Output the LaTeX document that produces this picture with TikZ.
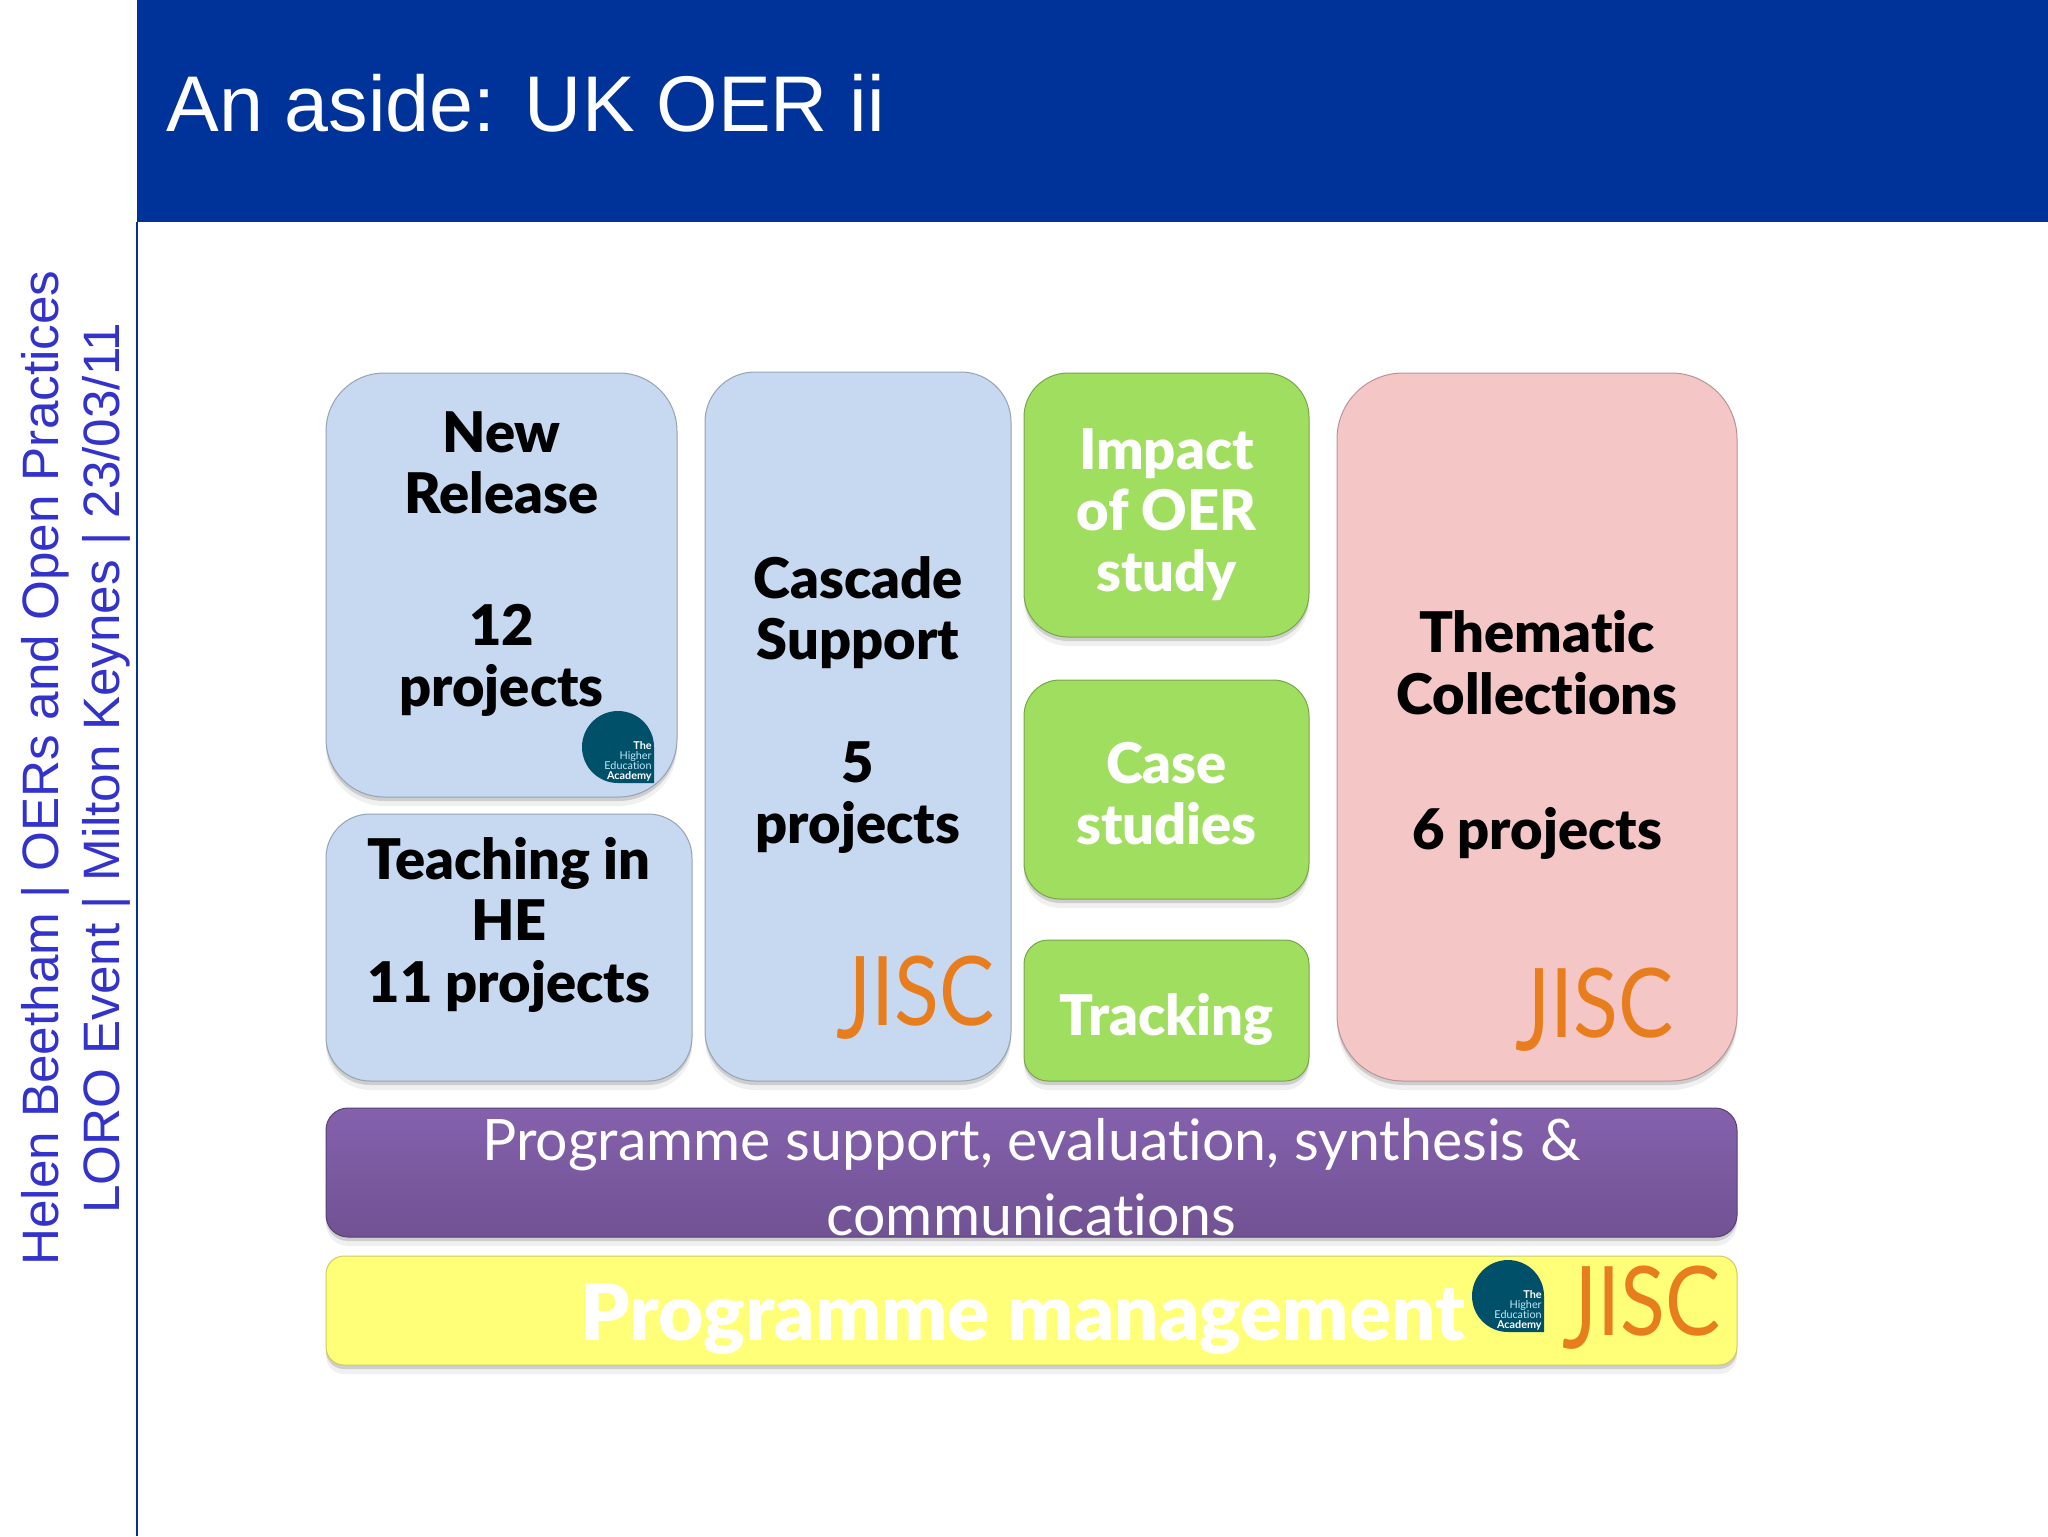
\documentclass[tikz,border=0pt]{standalone}
\usepackage{fontspec}
\setmainfont{Liberation Sans}
\newfontfamily\boxfont{Lato Black}[Ligatures=CommonOff]
\newfontfamily\barfont{Lato}[Ligatures=CommonOff]
\newfontfamily\logofont{Lato}
\definecolor{oerblue}{RGB}{0,51,153}
\definecolor{sidetext}{RGB}{51,51,204}
\definecolor{jiscorange}{RGB}{232,125,30}
\definecolor{heateal}{RGB}{0,80,105}
\definecolor{bluebody}{RGB}{198,217,241}
\definecolor{greenbody}{RGB}{160,222,95}
\definecolor{pinkbody}{RGB}{245,198,198}
\definecolor{yellowbody}{RGB}{255,255,120}
\definecolor{purpletop}{RGB}{140,102,182}
\definecolor{purplelow}{RGB}{104,76,136}
\definecolor{purplerim}{RGB}{205,165,245}
\pgfdeclareverticalshading{bluebevel}{100bp}{color(0bp)=(bluebody!60!black); color(1.5bp)=(bluebody); color(98bp)=(bluebody); color(100bp)=(bluebody!30!white)}
\pgfdeclareverticalshading{greenbevel}{100bp}{color(0bp)=(greenbody!55!black); color(3bp)=(greenbody); color(95bp)=(greenbody); color(100bp)=(greenbody!65!white)}
\pgfdeclareverticalshading{pinkbevel}{100bp}{color(0bp)=(pinkbody!60!black); color(1.5bp)=(pinkbody); color(98bp)=(pinkbody); color(100bp)=(pinkbody!30!white)}
\pgfdeclareverticalshading{purplebevel}{100bp}{color(0bp)=(purplelow!70!black); color(4bp)=(purplelow); color(92bp)=(purpletop); color(96bp)=(purpletop); color(100bp)=(purplerim)}
\pgfdeclareverticalshading{yellowbevel}{100bp}{color(0bp)=(yellowbody!55!black); color(5bp)=(yellowbody); color(94bp)=(yellowbody); color(100bp)=(yellowbody!60!white)}
\usetikzlibrary{shadows}
\newcommand{\dropfirst}[1]{\rule{0pt}{#1pt}}
\newcommand{\jiscword}{\scalebox{0.86}[1]{\raisebox{-6.5pt}{\scalebox{1}[1.19]{J}}ISC}}

\begin{document}
\begin{tikzpicture}[x=0.5pt,y=-0.5pt]
  \useasboundingbox (0,0) rectangle (2048,1536);
  \tikzstyle{bevelbox}=[rectangle,inner sep=0pt,align=center,line width=0.5pt,
    drop shadow={shadow xshift=0pt,shadow yshift=-4.5pt,opacity=0.12},
    drop shadow={shadow xshift=0pt,shadow yshift=-2pt,opacity=0.3}]
  \tikzstyle{boxlabel}=[font=\boxfont\fontsize{28}{30.7}\selectfont]
  \tikzstyle{bluebox}=[bevelbox,boxlabel,shading=bluebevel,draw=bluebody!75!black]
  \tikzstyle{greenbox}=[bevelbox,boxlabel,shading=greenbevel,draw=greenbody!75!black,text=white]
  \tikzstyle{pinkbox}=[bevelbox,boxlabel,shading=pinkbevel,draw=pinkbody!75!black]
  \tikzstyle{jisclogo}=[anchor=base west,inner sep=0pt,text=jiscorange,font=\logofont\fontsize{48}{48}\selectfont]
  \tikzset{hea/.pic={
    \fill[heateal] (36,0) arc (0:-270:36) -- (36,36) -- cycle;
    \node[anchor=south east,inner sep=0pt,align=right,text=cyan!25,font=\barfont\fontsize{5.4}{5.1}\selectfont] (text) at (34,35)
      {\textcolor{white}{\bfseries The}\\Higher\\Education\\\textcolor{white}{\bfseries Academy}};
  }}

  % header and side strip
  \fill[oerblue] (137,0) rectangle (2048,222);
  \draw[oerblue,line width=1pt] (137,222) -- (137,1536);
  \node[anchor=base west,inner sep=0pt,text=white,font=\fontsize{39.5}{39.5}\selectfont] (title) at (166,132) {An aside: UK OER ii};
  \node[rotate=90,anchor=base west,inner sep=0pt,text=sidetext,font=\fontsize{25.6}{25.6}\selectfont] (side1) at (58,1266) {Helen Beetham | OERs and Open Practices};
  \node[rotate=90,anchor=base west,inner sep=0pt,text=sidetext,font=\fontsize{25.6}{25.6}\selectfont] (side2) at (119,1214) {LORO Event | Milton Keynes | 23/03/11};

  % project boxes
  \node[bluebox,minimum width=175.5pt,minimum height=212pt,rounded corners=29pt] (newrelease) at (501.5,585) {\dropfirst{25}New\\Release\\[35pt]12\\projects\\~};
  \node[bluebox,minimum width=183pt,minimum height=133.5pt,rounded corners=22pt] (teaching) at (509,947.5) {\dropfirst{24}Teaching in\\HE\\11 projects\\~};
  \node[bluebox,minimum width=153pt,minimum height=354.5pt,rounded corners=25pt] (cascade) at (858,726.5) {\dropfirst{25}Cascade\\Support\\~\\5\\projects\\~};
  \node[greenbox,minimum width=142.5pt,minimum height=132pt,rounded corners=22pt] (impact) at (1166.5,505) {\dropfirst{30}Impact\\of OER\\study};
  \node[greenbox,minimum width=142.5pt,minimum height=109.5pt,rounded corners=18pt] (casestudies) at (1166.5,789.5) {\dropfirst{25}Case\\studies};
  \node[greenbox,minimum width=142.5pt,minimum height=70.5pt,rounded corners=12pt] (tracking) at (1166.5,1010.5) {\dropfirst{30}Tracking};
  \node[pinkbox,minimum width=200pt,minimum height=354pt,rounded corners=33pt] (thematic) at (1537,727) {\dropfirst{29}Thematic\\Collections\\[37pt]6 projects};

  % programme bars
  \node[bevelbox,shading=purplebevel,draw=purplelow!85!black,text=white,font=\barfont\fontsize{28.6}{37.5}\selectfont,minimum width=705.5pt,minimum height=64.5pt,rounded corners=11pt] (support) at (1031.5,1172.5)
    {\dropfirst{26}Programme support, evaluation, synthesis \&\\communications};
  \node[bevelbox,shading=yellowbevel,draw=yellowbody!80!black,text=white,font=\boxfont\fontsize{39}{39}\selectfont,minimum width=705.5pt,minimum height=54.5pt,rounded corners=9pt] (management) at (1031.5,1310.5)
    {\dropfirst{37}\hspace*{-9pt}Programme management};

  % logos
  \pic[name prefix=heaone] at (618,747) {hea};
  \pic[name prefix=heatwo] at (1508,1296) {hea};
  \node[jisclogo] (jiscone) at (836,1025) {\jiscword};
  \node[jisclogo] (jisctwo) at (1515,1037) {\jiscword};
  \node[jisclogo] (jiscthree) at (1562,1335) {\jiscword};
\end{tikzpicture}
\end{document}
